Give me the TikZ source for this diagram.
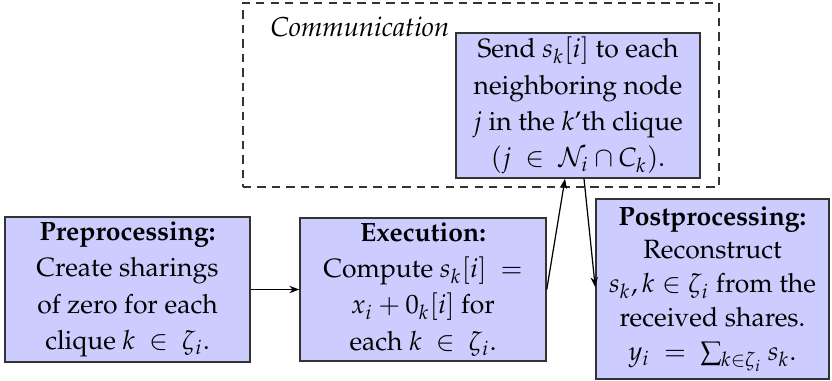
\documentclass[tikz,border=0pt]{standalone}
\usepackage[T1]{fontenc}
\usepackage{mathpazo}
\usetikzlibrary{arrows.meta}
\begin{document}
\begin{tikzpicture}[x=0.3247pt,y=-0.3247pt,
  stagebox/.style={draw=black!80,line width=0.5pt,fill=blue!20,align=center,inner sep=0pt,font=\fontsize{8.6}{11.8}\selectfont},
  conn/.style={-{Stealth[length=3.2pt,width=2.4pt]},line width=0.4pt},
  groupbox/.style={draw=black!80,dash pattern=on 2.7pt off 2pt,line width=0.4pt}]
\useasboundingbox (0,0) rectangle (832,381);
\node[groupbox,minimum width=476*0.3247pt,minimum height=184*0.3247pt] (comm) at (481,95) {};
\node[font=\fontsize{8.9}{11}\selectfont\itshape] (commlabel) at (360,27) {Communication};
\node[stagebox,minimum width=244*0.3247pt,minimum height=145*0.3247pt] (send) at (578,105.5)
  {Send $s_k[i]$ to each\\ neighboring node\\ $j$ in the $k$'th clique\\ $(j\ \in\ \mathcal{N}_i\cap C_k)$.};
\node[stagebox,minimum width=245*0.3247pt,minimum height=145*0.3247pt] (pre) at (127.5,289.5)
  {\textbf{Preprocessing:}\\ Create sharings\\ of zero for each\\ clique $k\ \in\ \zeta_i$.};
\node[stagebox,minimum width=246*0.3247pt,minimum height=143*0.3247pt] (exec) at (423,289.5)
  {\textbf{Execution:}\\ Compute $s_k[i]\ =$\\ $x_i+0_k[i]$ for\\ each $k\ \in\ \zeta_i$.};
\node[stagebox,font=\fontsize{8.6}{11}\selectfont,minimum width=233*0.3247pt,minimum height=180*0.3247pt] (post) at (712.5,289)
  {\textbf{Postprocessing:}\\ Reconstruct\\ $s_k, k\in\zeta_i$ from the\\ received shares.\\ $y_i\ =\ \sum_{k\in\zeta_i}s_k$.};
\draw[conn] (pre.east) -- (exec.west);
\draw[conn] (exec.east) -- ([xshift=-13*0.3247pt]send.south);
\draw[conn] ([xshift=6*0.3247pt]send.south) -- ([yshift=2*0.3247pt]post.west);
\end{tikzpicture}
\end{document}
